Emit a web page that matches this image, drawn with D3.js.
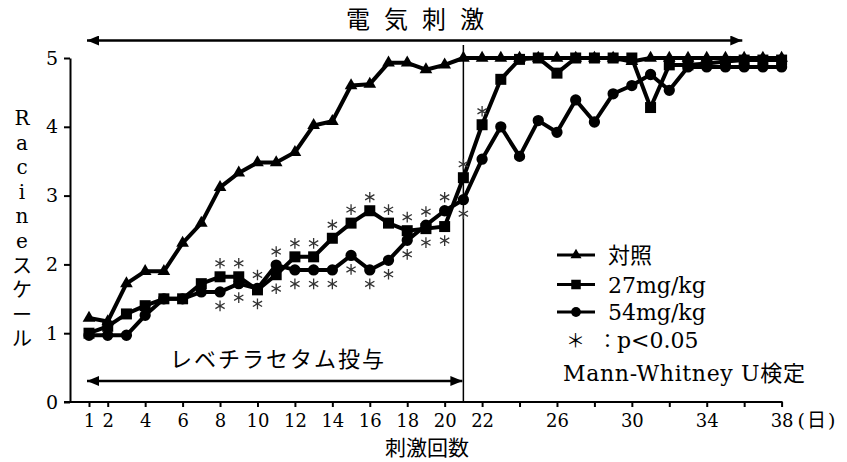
<!DOCTYPE html>
<html><head><meta charset="utf-8">
<script src="https://cdn.jsdelivr.net/npm/d3@7"></script>
<style>
html,body{margin:0;padding:0;background:#fff;}
svg{display:block;}
</style></head>
<body>
<svg id="chart" width="847" height="462"></svg>
<script>
// ---- data ----
const days = [1,2,3,4,5,6,7,8,9,10,11,12,13,14,15,16,17,18,19,20,21,22,23,24,25,26,27,28,29,30,31,32,33,34,35,36,37,38];
const control = [1.22,1.17,1.72,1.9,1.9,2.31,2.6,3.12,3.33,3.48,3.48,3.63,4.02,4.08,4.6,4.62,4.93,4.93,4.83,4.9,5,5,5,5,5,5,5,5,5,4.95,5,5,5,5,5,5,5,5];
const mg27 = [1.0,1.1,1.28,1.4,1.5,1.5,1.72,1.82,1.82,1.63,1.85,2.11,2.11,2.38,2.6,2.78,2.6,2.49,2.52,2.55,3.26,4.03,4.69,4.98,5,4.78,5,5,5,5,4.28,4.9,4.9,4.92,4.95,4.97,4.97,4.97];
const mg54 = [0.97,0.97,0.97,1.26,1.5,1.5,1.6,1.6,1.72,1.65,1.99,1.92,1.92,1.92,2.13,1.92,2.06,2.35,2.57,2.78,2.94,3.53,4.0,3.57,4.09,3.92,4.39,4.07,4.48,4.6,4.76,4.53,4.87,4.87,4.87,4.87,4.87,4.87];
const sig27 = [8,9,10,11,12,13,14,15,16,17,18,19,20,21,22];
const sig54 = [8,9,10,11,12,13,14,15,16,17,18,19,20,21];
const xTickValues = [1,2,4,6,8,10,12,14,16,18,20,22,24,26,28,30,32,34,36,38];
const xTickLabels = [1,2,4,6,8,10,12,14,16,18,20,22,26,30,34,38];
const yTickValues = [0,1,2,3,4,5];
const seriesNames = ["対照","27mg/kg","54mg/kg"];
const yTitle = "Racineスケール";
const xTitle = "刺激回数";
const xUnit = "(日)";
const topLabel = "電気刺激";
const drugLabel = "レベチラセタム投与";
const stimEndDay = 21;
const arrowTopEndDay = 35.9;

// ---- drawing ----
const svg = d3.select("#chart");
const serif = "'DejaVu Serif','Noto Sans CJK JP',serif";
const cjk = "'Noto Sans CJK JP','DejaVu Serif',sans-serif";
const x = d3.scaleLinear().domain([1,38]).range([89,781.6]);
const y = d3.scaleLinear().domain([0,5]).range([402,58]);

const defs = svg.append("defs");
defs.append("marker").attr("id","ah").attr("viewBox","0 0 12 10").attr("refX",12).attr("refY",5)
  .attr("markerWidth",12).attr("markerHeight",10).attr("markerUnits","userSpaceOnUse").attr("orient","auto-start-reverse")
  .append("path").attr("d","M0,0L12,5L0,10Z").attr("fill","#000");

// axes
const yAxis = d3.axisLeft(y).tickValues(yTickValues).tickSize(6).tickSizeOuter(0).tickPadding(6).tickFormat(d3.format("d"));
const gy = svg.append("g").attr("transform","translate(70,0)").call(yAxis);
gy.select(".domain").attr("stroke-width",2);
gy.selectAll(".tick line").attr("stroke-width",2);
gy.selectAll("text").attr("font-family",serif).attr("font-size",19).attr("fill","#000");

const xAxis = d3.axisBottom(x).tickValues(xTickValues).tickSize(5).tickSizeOuter(0).tickPadding(7)
  .tickFormat(d => xTickLabels.includes(d) ? d : "");
const gx = svg.append("g").attr("transform","translate(0,402)").call(xAxis);
gx.select(".domain").remove();
gx.selectAll(".tick line").attr("stroke-width",2);
gx.selectAll("text").attr("font-family",serif).attr("font-size",18).attr("fill","#000");
svg.append("line").attr("x1",64).attr("x2",x(38)+1).attr("y1",402).attr("y2",402).attr("stroke","#000").attr("stroke-width",2);

svg.append("text").attr("x",x(38)+16).attr("y",427).attr("font-family",serif).attr("font-size",19).attr("letter-spacing",2).text(xUnit);
svg.append("text").attr("x",427).attr("y",455).attr("text-anchor","middle").attr("font-family",cjk).attr("font-size",21).text(xTitle);

// y title vertical
svg.append("g").selectAll("text").data(Array.from(yTitle)).join("text")
  .attr("x",22).attr("y",(d,i)=>118+i*24.6).attr("text-anchor","middle").attr("dominant-baseline","central")
  .attr("font-family",serif).attr("font-size",20).text(d=>d);

// stimulation vertical line
svg.append("line").attr("x1",x(stimEndDay)).attr("x2",x(stimEndDay)).attr("y1",45).attr("y2",402).attr("stroke","#000").attr("stroke-width",1.5);

// arrows
svg.append("line").attr("x1",x(1)-2).attr("x2",x(arrowTopEndDay)).attr("y1",40.5).attr("y2",40.5)
  .attr("stroke","#000").attr("stroke-width",2.5).attr("marker-start","url(#ah)").attr("marker-end","url(#ah)");
svg.append("text").attr("x",415+7).attr("y",28).attr("text-anchor","middle").attr("font-family",cjk).attr("font-size",24).attr("letter-spacing",14).text(topLabel);
svg.append("line").attr("x1",x(1)-2).attr("x2",x(stimEndDay)-1).attr("y1",381).attr("y2",381)
  .attr("stroke","#000").attr("stroke-width",2.5).attr("marker-start","url(#ah)").attr("marker-end","url(#ah)");
svg.append("text").attr("x",278).attr("y",367).attr("text-anchor","middle").attr("font-family",cjk).attr("font-size",22).attr("letter-spacing",2).text(drugLabel);

// series
const series = [
  {name:seriesNames[0], values:control, sym:d3.symbolTriangle, size:70},
  {name:seriesNames[1], values:mg27, sym:d3.symbolSquare, size:121},
  {name:seriesNames[2], values:mg54, sym:d3.symbolCircle, size:100}
];
const line = d3.line().x((d,i)=>x(days[i])).y(d=>y(d));
const order = [2,1,0];
order.forEach(k=>{
  const s = series[k];
  svg.append("path").datum(s.values).attr("d",line).attr("fill","none").attr("stroke","#000").attr("stroke-width",4).attr("stroke-linejoin","round");
  svg.append("g").selectAll("path").data(s.values).join("path")
    .attr("transform",(d,i)=>`translate(${x(days[i])},${y(d)})`)
    .attr("d",d3.symbol(s.sym,s.size)).attr("fill","#000");
});

// significance asterisks
const stars = [];
sig27.forEach(d=>{ const i=days.indexOf(d); stars.push({day:d, v:mg27[i], up: mg27[i] >= mg54[i]}); });
sig54.forEach(d=>{ const i=days.indexOf(d); stars.push({day:d, v:mg54[i], up: mg54[i] > mg27[i]}); });
svg.append("g").selectAll("path").data(stars).join("path")
  .attr("transform",d=>`translate(${x(d.day)},${y(d.v)+(d.up?-13.5:14)})`)
  .attr("d",d3.symbol(d3.symbolAsterisk,80)).attr("fill","none").attr("stroke","#333").attr("stroke-width",1.3);

// legend
const lg = svg.append("g");
[255,284.5,312].forEach((ly,k)=>{
  const s = series[k];
  lg.append("line").attr("x1",557).attr("x2",595).attr("y1",ly).attr("y2",ly).attr("stroke","#000").attr("stroke-width",3);
  lg.append("path").attr("transform",`translate(576,${ly})`).attr("d",d3.symbol(s.sym,s.size*0.75)).attr("fill","#000");
  lg.append("text").attr("x",608).attr("y",ly+8).attr("font-family",serif).attr("font-size",22).text(s.name);
});
const t4 = lg.append("text").attr("y",348).attr("font-size",22);
t4.append("tspan").attr("x",566).attr("font-family",cjk).attr("font-size",19).text("＊");
t4.append("tspan").attr("x",598).attr("font-family",cjk).attr("font-size",19).text("：");
t4.append("tspan").attr("x",617).attr("font-family",serif).text("p<0.05");
lg.append("text").attr("x",563).attr("y",381).attr("font-family",serif).attr("font-size",22).attr("textLength",242).attr("lengthAdjust","spacing").text("Mann-Whitney U検定");
</script>
</body></html>
